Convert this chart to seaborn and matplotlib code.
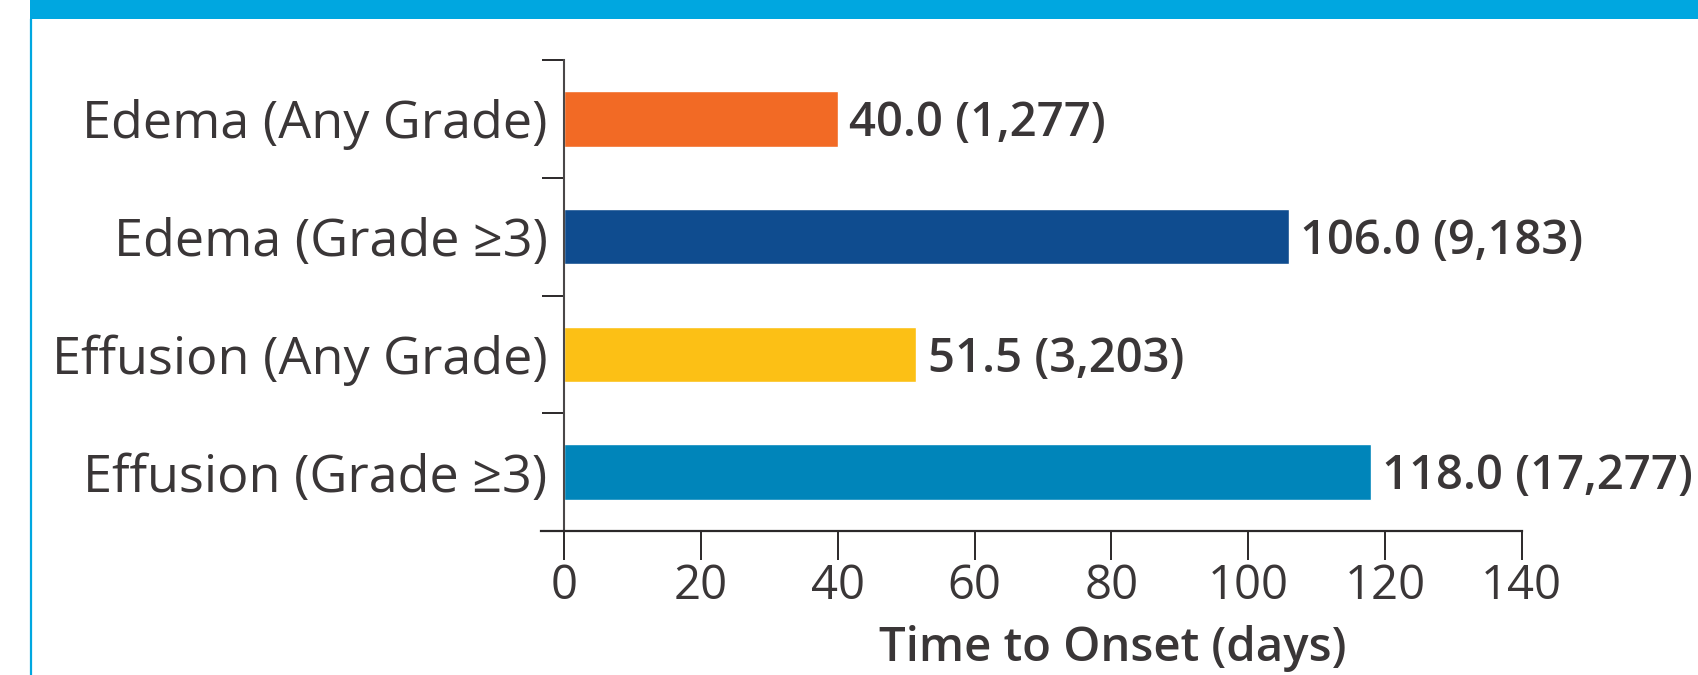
import matplotlib
matplotlib.use("Agg")
import matplotlib.pyplot as plt
import seaborn as sns
import pandas as pd
from matplotlib.patches import Rectangle
from matplotlib.lines import Line2D

# ---- data ----
categories = ["Edema (Any Grade)", "Edema (Grade \u22653)", "Effusion (Any Grade)", "Effusion (Grade \u22653)"]
median_days = [40.0, 106.0, 51.5, 118.0]
range_max = ["1,277", "9,183", "3,203", "17,277"]
bar_colors = ["#F26A25", "#0F4C8F", "#FCC015", "#0085BA"]
x_ticks = [0, 20, 40, 60, 80, 100, 120, 140]
x_label = "Time to Onset (days)"

df = pd.DataFrame({"category": categories, "days": median_days})

sns.set_theme(style="white")
plt.rcParams["font.family"] = ["Open Sans", "DejaVu Sans"]
TEXT = "#3A3637"
AXC = "#2B2829"

W, H = 1698, 675
fig = plt.figure(figsize=(W / 100, H / 100), dpi=100)
ax_left, ax_right = 541 / W, 1521.6 / W
ax_bot, ax_top = 1 - 531 / H, 1 - 60 / H
ax = fig.add_axes([ax_left, ax_bot, ax_right - ax_left, ax_top - ax_bot])

sns.barplot(data=df, y="category", x="days", hue="category", palette=bar_colors,
            orient="h", width=0.472, legend=False, ax=ax, saturation=1)

ax.set_xlim(-3.4, 140)
ax.set_ylim(3.5, -0.5)

# spines
for s in ["top", "right"]:
    ax.spines[s].set_visible(False)
ax.spines["left"].set_position(("data", 0))
ax.spines["left"].set_color("#4A4748")
ax.spines["left"].set_linewidth(1.5)
ax.spines["bottom"].set_color(AXC)
ax.spines["bottom"].set_linewidth(1.6)

# x ticks
ax.set_xticks(x_ticks)
ax.set_xticklabels([str(t) for t in x_ticks])
ax.tick_params(axis="x", which="major", direction="out", length=21, width=1.4,
               color=AXC, pad=2, labelsize=34, labelcolor=TEXT, bottom=True)

# y: boundary ticks (major) and category labels (minor)
n = len(categories)
ax.set_yticks([i - 0.5 for i in range(n + 1)])
ax.set_yticklabels([""] * (n + 1))
ax.set_yticks(list(range(n)), minor=True)
ax.set_yticklabels(categories, minor=True)
ax.tick_params(axis="y", which="major", direction="out", length=15.5, width=1.4,
               color=AXC, left=True)
ax.tick_params(axis="y", which="minor", length=0, pad=12, labelsize=37.5, labelcolor=TEXT, left=True)
ax.set_ylabel("")

# value labels
for i, (v, r) in enumerate(zip(median_days, range_max)):
    ax.annotate(f"{v:.1f} ({r})", xy=(v, i), xytext=(8, -3.5), textcoords="offset points",
                ha="left", va="center", fontsize=34, fontweight="semibold", color=TEXT)

# x label
ax.set_xlabel(x_label, fontsize=34, fontweight="semibold", color=TEXT)
ax.xaxis.label.set_va("center")
ax.xaxis.set_label_coords((1113 - 541) / (1521.6 - 541), -(649 - 531) / (531 - 60))

# frame decoration: top band and left border line
band_h = 19 / H
fig.patches.append(Rectangle((30 / W, 1 - band_h), 1 - 30 / W, band_h, transform=fig.transFigure,
                             facecolor="#00A7E0", edgecolor="none", zorder=0))
fig.lines.append(Line2D([31 / W, 31 / W], [0, 1 - band_h], transform=fig.transFigure,
                        color="#00A7E0", linewidth=1.6))

fig.savefig("out.png", dpi=100)
